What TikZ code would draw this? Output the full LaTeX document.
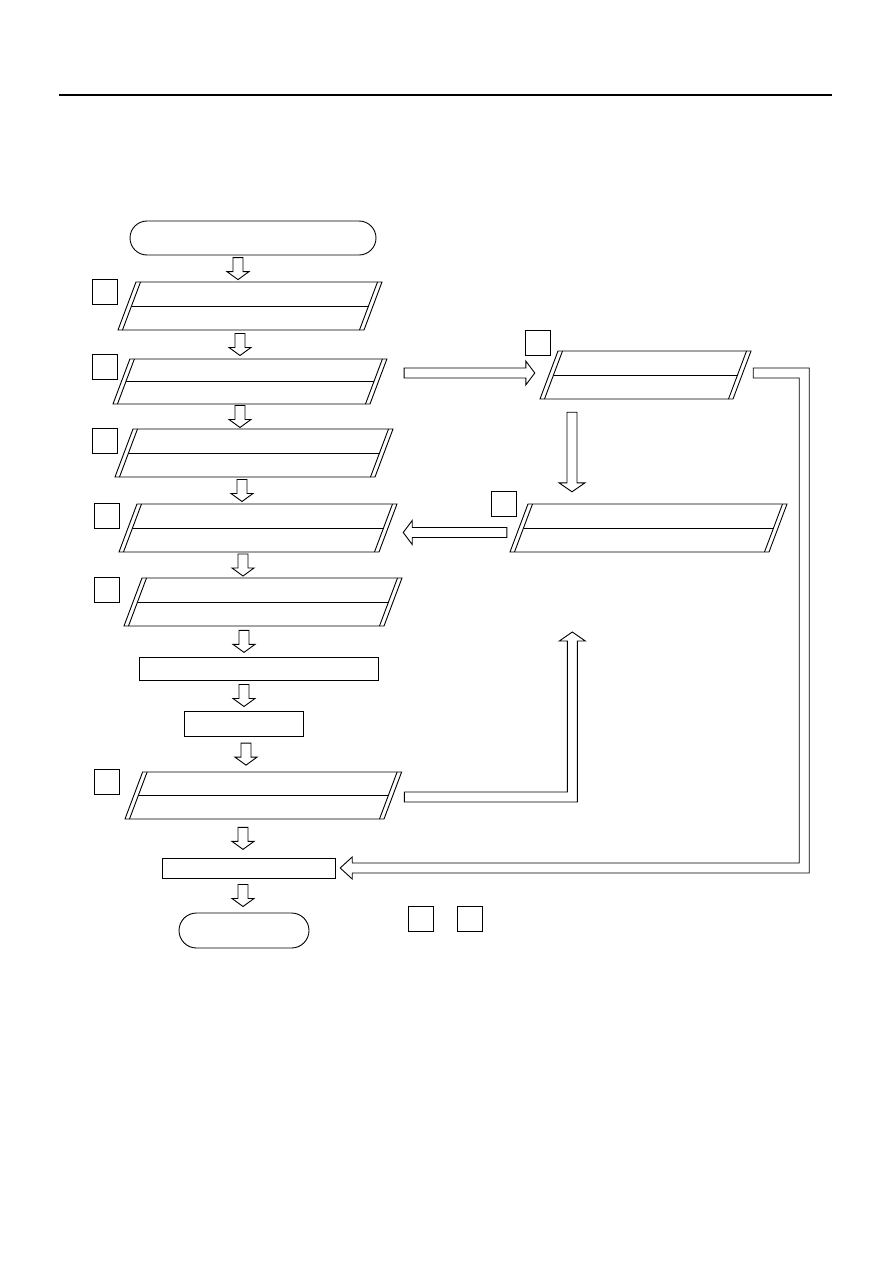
\documentclass[tikz,border=0pt]{standalone}
\usepackage{tikz}
\usetikzlibrary{calc,shapes.misc}

% bloque de entrada/salida con lados dobles: nombre, x abajo izq., y arriba, ancho, alto
\newcommand{\ioblock}[5]{%
  \pgfmathsetmacro{\ioslant}{0.375*#5}
  \pgfmathsetmacro{\iobot}{#3+#5}
  \pgfmathsetmacro{\iomid}{#3+#5/2}
  \pgfmathsetmacro{\iotl}{#2+\ioslant}
  \pgfmathsetmacro{\iobr}{#2+#4}
  \pgfmathsetmacro{\iotr}{\iotl+#4}
  \draw[box] (#2,\iobot) -- (\iotl,#3) -- (\iotr,#3) -- (\iobr,\iobot) -- cycle;
  \draw[box] (#2+4.5,\iobot) -- (\iotl+4.5,#3);
  \draw[box] (\iobr-4.5,\iobot) -- (\iotr-4.5,#3);
  \draw[box] (#2+4.5+\ioslant/2,\iomid) -- (\iobr-4.5+\ioslant/2,\iomid);
  \node[inner sep=0pt, minimum width={#4+\ioslant}, minimum height=#5] (#1) at ({#2+(#4+\ioslant)/2},\iomid) {};
}
% flecha hueca corta hacia abajo entre dos nodos: x, nodo superior, nodo inferior
\newcommand{\flowdown}[3]{%
  \coordinate (fa) at (#1,0);
  \coordinate (fm) at ($(#2.south)!0.5!(#3.north)$);
  \draw[hollow] (fa |- fm) ++(-5,-11) -- ++(10,0) -- ++(0,14) -- ++(6,0) -- ++(-11,8) -- ++(-11,-8) -- ++(6,0) -- cycle;
}
% flechas huecas largas: inicio, punta
\newcommand{\hollowh}[2]{%
  \draw[hollow] let \p1=#1, \p2=#2, \p3=($(\x2,\y1)!9pt!(\x1,\y1)$) in
    (\x1,\y1+5pt) -- (\x3,\y1+5pt) -- (\x3,\y1+12pt) -- (\x2,\y1)
    -- (\x3,\y1-12pt) -- (\x3,\y1-5pt) -- (\x1,\y1-5pt) -- cycle;
}
\newcommand{\hollowv}[2]{%
  \draw[hollow] let \p1=#1, \p2=#2, \p3=($(\x1,\y2)!9pt!(\x1,\y1)$) in
    (\x1+5pt,\y1) -- (\x1+5pt,\y3) -- (\x1+13pt,\y3) -- (\x1,\y2)
    -- (\x1-13pt,\y3) -- (\x1-5pt,\y3) -- (\x1-5pt,\y1) -- cycle;
}

\begin{document}
\begin{tikzpicture}[x=1pt,y=-1pt,
    box/.style={draw, line width=0.9pt},
    hollow/.style={draw, line width=0.9pt, fill=white, line join=miter},
    term/.style={box, rounded rectangle, inner sep=0pt},
    plain/.style={box, rectangle, inner sep=0pt},
    numbox/.style={box, rectangle, inner sep=0pt, minimum size=25, anchor=north west}]
  \useasboundingbox (0,0) rectangle (893,1263);

  % linea de encabezado
  \draw[line width=1.8pt] (59,95) -- (832,95);

  % columna principal
  \node[term, minimum width=246, minimum height=34] (start) at (253,238) {};
  \ioblock{p1}{118}{282}{246}{48}
  \ioblock{p2}{113}{359}{257}{45}
  \ioblock{p3}{115}{429}{260}{48}
  \ioblock{p4}{119}{504}{260}{48}
  \ioblock{p5}{124}{578}{260}{48}
  \node[plain, minimum width=239, minimum height=23] (r1) at (258.5,668.5) {};
  \node[plain, minimum width=119, minimum height=25] (r2) at (243.5,723.5) {};
  \ioblock{p6}{125}{772}{259}{47}
  \node[plain, minimum width=173, minimum height=20] (r3) at (248.5,868) {};
  \node[term, minimum width=130, minimum height=35] (finish) at (244,930.5) {};

  % rama derecha
  \ioblock{p7}{540}{351}{193}{48}
  \ioblock{p8}{510}{504}{259}{48}

  % casillas de numero
  \node[numbox] (n1) at (92,279) {};
  \node[numbox] (n2) at (92,354) {};
  \node[numbox] (n3) at (92,428) {};
  \node[numbox] (n4) at (94,503) {};
  \node[numbox] (n5) at (94,577) {};
  \node[numbox] (n6) at (94,769) {};
  \node[numbox] (n7) at (525,330) {};
  \node[numbox] (n8) at (491,491) {};
  \node[numbox] (l1) at (408,906) {};
  \node[numbox] (l2) at (457,906) {};

  % flechas de la columna principal
  \flowdown{238}{start}{p1}
  \flowdown{240}{p1}{p2}
  \flowdown{240}{p2}{p3}
  \flowdown{242}{p3}{p4}
  \flowdown{243}{p4}{p5}
  \flowdown{244}{p5}{r1}
  \flowdown{244}{r1}{r2}
  \flowdown{246}{r2}{p6}
  \flowdown{243}{p6}{r3}
  \flowdown{243}{r3}{finish}

  % flechas de la rama derecha
  \hollowh{($(p2.east)+(17,-8.5)$)}{($(p7.west)+(-5,0)$)}
  \hollowv{($(p7.south)+(-73.5,13)$)}{($(p8.north)+(0,-12)$)}
  \hollowh{($(p8.west)+(-3,4.5)$)}{($(p4.east)+(6,0)$)}

  % retorno de p6 hacia p8
  \draw[hollow] ($(p6.east)+(2.5,-3.5)$) -- ++(163,0) -- ++(0,-151) -- ++(-8,0) -- ++(13,-9)
    -- ++(13,9) -- ++(-8,0) -- ++(0,161) -- ++(-173,0) -- cycle;
  % salida de p7 hacia r3
  \draw[hollow] ($(p7.east)+(2,-7)$) -- ++(56,0) -- ++(0,505) -- ++(-457,0) -- ++(0,6) -- ++(-12,-11)
    -- ++(12,-11) -- ++(0,6) -- ++(447,0) -- ++(0,-485) -- ++(-46,0) -- cycle;
\end{tikzpicture}
\end{document}
